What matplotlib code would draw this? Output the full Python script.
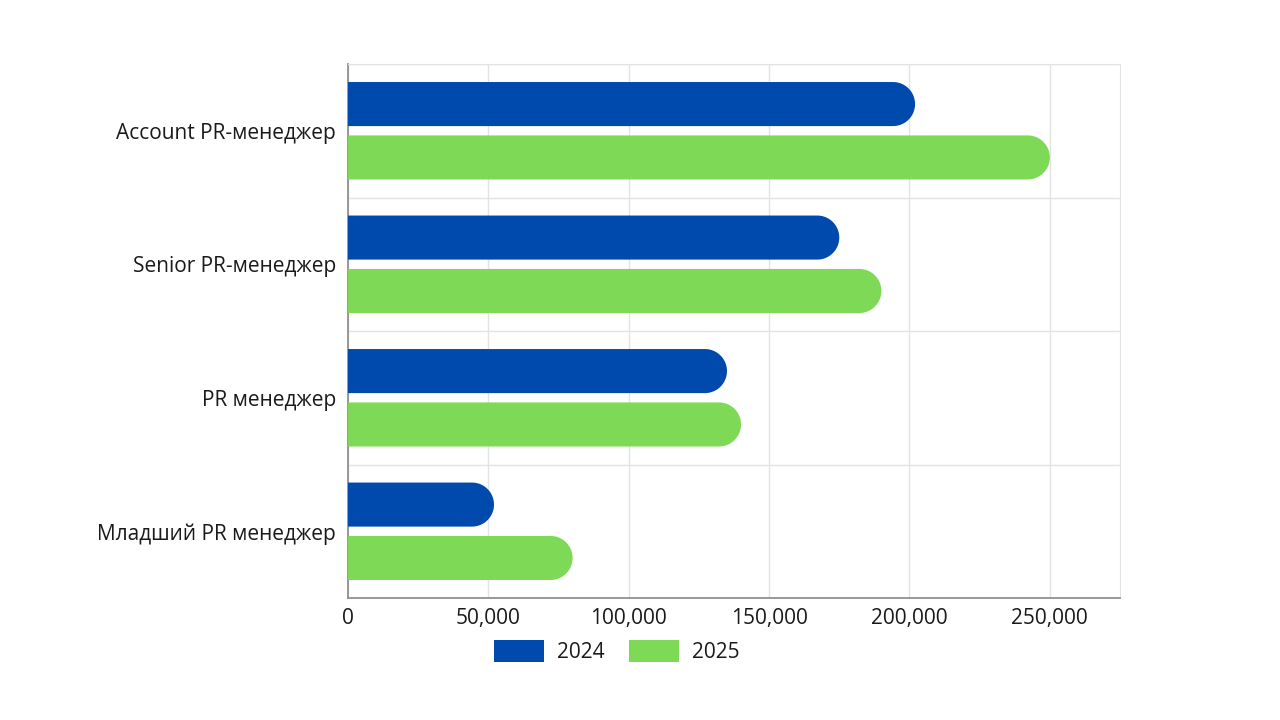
import matplotlib
matplotlib.use("Agg")
import matplotlib.pyplot as plt
import numpy as np
from matplotlib.path import Path
from matplotlib.patches import PathPatch, Patch

plt.rcParams["font.family"] = ["Open Sans", "DejaVu Sans"]

# ─── Data ─────────────────────────────────────────────
roles = ["Account PR-менеджер", "Senior PR-менеджер", "PR менеджер", "Младший PR менеджер"]
years = ["2024", "2025"]
salary_2024 = [202000, 175000, 135000, 52000]
salary_2025 = [250000, 190000, 140000, 80000]
colors = ["#004AAD", "#7ED957"]

XMAX = 275000
BAR_H = 0.33
OFFSET = 0.2
FS = 15


def rounded_bar(ax, y, value, height, color):
    """Bar from 0 to value with a semicircular right end (circular on screen)."""
    # radius in x data units that matches half the bar height in pixels
    p0 = ax.transData.transform((0, y))
    p1 = ax.transData.transform((0, y + height / 2))
    r_px = abs(p1[1] - p0[1])
    px_per_x = ax.transData.transform((1, 0))[0] - ax.transData.transform((0, 0))[0]
    rx = r_px / px_per_x
    ry = height / 2
    xc = max(value - rx, 0)
    t = np.linspace(-np.pi / 2, np.pi / 2, 40)
    arc = np.column_stack([xc + rx * np.cos(t), y + ry * np.sin(t)])
    verts = [(0, y - ry), (xc, y - ry)] + [tuple(p) for p in arc] + [(0, y + ry), (0, y - ry)]
    codes = [Path.MOVETO] + [Path.LINETO] * (len(verts) - 2) + [Path.CLOSEPOLY]
    ax.add_patch(PathPatch(Path(verts, codes), facecolor=color, edgecolor="none", zorder=3))


fig = plt.figure(figsize=(12.8, 7.2), dpi=100)
ax = fig.add_axes([0.2719, 0.1694, 0.6031, 0.7417])
ax.set_xlim(0, XMAX)
ax.set_ylim(len(roles) - 0.5, -0.5)

ypos = np.arange(len(roles))
for i in range(len(roles)):
    rounded_bar(ax, ypos[i] - OFFSET, salary_2024[i], BAR_H, colors[0])
    rounded_bar(ax, ypos[i] + OFFSET, salary_2025[i], BAR_H, colors[1])

ax.set_yticks(ypos)
ax.set_yticklabels(roles, fontsize=FS, color="#1a1a1a")
ax.set_xticks(np.arange(0, 250001, 50000))
ax.set_xticklabels([f"{v:,}" for v in range(0, 250001, 50000)], fontsize=FS, color="#1a1a1a")
ax.tick_params(axis="both", length=0)
ax.tick_params(axis="y", pad=8.5)
ax.tick_params(axis="x", pad=7)

# grid: vertical at ticks, horizontal at category boundaries
ax.set_yticks(np.arange(-0.5, len(roles), 1), minor=True)
ax.grid(axis="x", which="major", color="#e3e3e3", linewidth=1, zorder=0)
ax.grid(axis="y", which="minor", color="#e3e3e3", linewidth=1, zorder=0)
ax.tick_params(axis="y", which="minor", length=0)
ax.set_axisbelow(True)

for side in ["top", "right"]:
    ax.spines[side].set_color("#e3e3e3")
for side in ["left", "bottom"]:
    ax.spines[side].set_color("#888888")
    ax.spines[side].set_linewidth(1.2)

handles = [Patch(facecolor=c, label=y) for c, y in zip(colors, years)]
fig.legend(handles=handles, loc="center", bbox_to_anchor=(0.482, 0.095), ncol=2,
           frameon=False, fontsize=FS, handlelength=2.4, handleheight=1.2,
           columnspacing=1.2, handletextpad=0.6, labelcolor="#1a1a1a")

fig.savefig("out.png", dpi=100, facecolor="white")
